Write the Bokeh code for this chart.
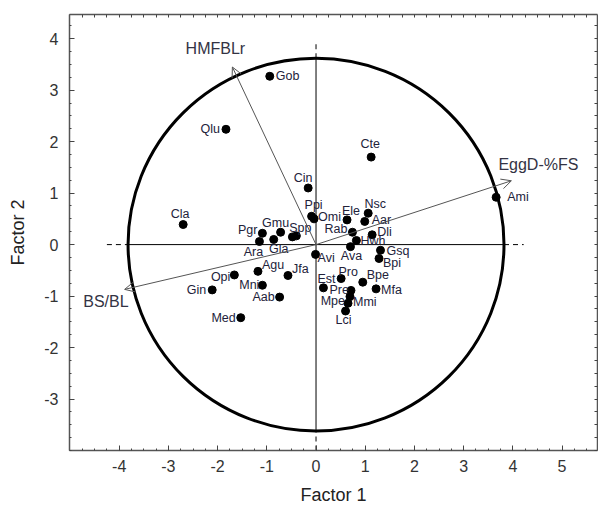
from bokeh.plotting import figure
from bokeh.models import (LinearAxis, Range1d, FixedTicker, Arrow,
                          OpenHead, ColumnDataSource)
from bokeh.core.properties import value
from bokeh.embed import file_html
from bokeh.resources import INLINE

# ---------------- data ----------------
species = ["Gob", "Qlu", "Cin", "Cte", "Ami", "Cla", "Ppi", "Omi", "Ele", "Nsc",
           "Aar", "Rab", "Dli", "Hwh", "Ava", "Gsq", "Bpi", "Avi", "Pro", "Bpe",
           "Mfa", "Est", "Pre", "Mmi", "Mpe", "Lci", "Pgr", "Gmu", "Spp", "",
           "Ara", "Gla", "Agu", "Jfa", "Opi", "Mni", "Gin", "Aab", "Med"]
factor1 = [-0.94, -1.83, -0.16, 1.12, 3.66, -2.70, -0.09, -0.04, 0.63, 1.06,
           0.99, 0.74, 1.14, 0.82, 0.70, 1.31, 1.28, -0.01, 0.51, 0.95,
           1.22, 0.15, 0.71, 0.69, 0.65, 0.60, -1.09, -0.72, -0.40, -0.48,
           -1.15, -0.86, -1.18, -0.57, -1.66, -1.09, -2.11, -0.74, -1.53]
factor2 = [3.27, 2.24, 1.10, 1.70, 0.92, 0.39, 0.55, 0.50, 0.48, 0.61,
           0.45, 0.24, 0.19, 0.08, -0.04, -0.11, -0.27, -0.19, -0.66, -0.73,
           -0.86, -0.84, -0.89, -1.01, -1.14, -1.29, 0.22, 0.24, 0.17, 0.15,
           0.06, 0.10, -0.52, -0.60, -0.59, -0.79, -0.88, -1.02, -1.42]

vector_names = ["HMFBLr", "EggD-%FS", "BS/BL"]
vector_x = [-1.70, 3.97, -3.89]
vector_y = [3.45, 1.24, -0.87]

x_ticks = [-4, -3, -2, -1, 0, 1, 2, 3, 4, 5]
y_ticks = [-3, -2, -1, 0, 1, 2, 3, 4]

# circle (round on screen, so slightly different radii in data units)
circle_rx = 3.82
circle_ry = 3.62

# ---------------- label placement (screen px offsets) ----------------
placement = {
    "Gob": (6, 0, "left"), "Qlu": (-6, 0, "right"), "Cin": (-5, -10, "center"),
    "Cte": (-1, -13, "center"), "Ami": (11, 0, "left"), "Cla": (-3, -11, "center"),
    "Ppi": (2, -11, "center"), "Omi": (4, -2, "left"), "Ele": (4, -9, "center"),
    "Nsc": (7, -9, "center"), "Aar": (7, -1, "left"), "Rab": (-5, -3, "right"),
    "Dli": (5, -3, "left"), "Hwh": (4, 1, "left"), "Ava": (1, 9, "center"),
    "Gsq": (6, 1, "left"), "Bpi": (4, 5, "left"), "Avi": (2, 4, "left"),
    "Pro": (7, -7, "center"), "Bpe": (4, -7, "left"), "Mfa": (5, 1, "left"),
    "Est": (3, -9, "center"), "Pre": (-2, 0, "right"), "Mmi": (3, 5, "left"),
    "Mpe": (-3, -2, "right"), "Lci": (-2, 9, "center"), "Pgr": (-5, -3, "right"),
    "Gmu": (-5, -9, "center"), "Spp": (4, -8, "center"), "Ara": (-6, 10, "center"),
    "Gla": (5, 10, "center"), "Agu": (4, -6, "left"), "Jfa": (4, -6, "left"),
    "Opi": (-4, 2, "right"), "Mni": (-3, 0, "right"), "Gin": (-6, 0, "right"),
    "Aab": (-5, 0, "right"), "Med": (-5, 0, "right"),
}
vec_placement = {
    "HMFBLr": (-17, -19, "center"),
    "EggD-%FS": (-13, -16, "left"),
    "BS/BL": (4, 12, "right"),
}

FONT = "Liberation Sans"
LABEL_COLOR = "#22223a"
X_MIN, X_MAX = -5.01, 5.72
Y_MIN, Y_MAX = -4.0, 4.47

p = figure(width=598, height=507, output_backend="svg", toolbar_location=None,
           x_range=Range1d(X_MIN, X_MAX), y_range=Range1d(Y_MIN, Y_MAX),
           min_border_left=69, min_border_right=1, min_border_top=14,
           min_border_bottom=55, x_axis_location=None, y_axis_location=None)
p.grid.visible = False
p.outline_line_color = None
p.background_fill_color = "white"
p.border_fill_color = "white"

x_minor = [i / 4 for i in range(-20, 23)]
y_minor = [i / 4 for i in range(-16, 18)]


def style_axis(ax):
    ax.axis_line_color = "#555555"
    ax.axis_line_width = 1.5
    ax.major_tick_in = 5
    ax.major_tick_out = 0
    ax.minor_tick_in = 2
    ax.minor_tick_out = 0
    ax.major_tick_line_color = "#444444"
    ax.minor_tick_line_color = "#444444"
    ax.major_label_text_font = FONT
    ax.major_label_text_font_size = "16px"
    ax.major_label_text_color = "#333333"
    ax.axis_label_text_font = FONT
    ax.axis_label_text_font_size = "18px"
    ax.axis_label_text_font_style = "normal"
    ax.axis_label_text_color = "#222222"
    return ax


xb = style_axis(LinearAxis(ticker=FixedTicker(ticks=x_ticks, minor_ticks=x_minor)))
xb.major_label_overrides = {t: str(t) for t in x_ticks}
xb.axis_label = "Factor 1"
xb.major_label_standoff = 9
xb.axis_label_standoff = 10
p.add_layout(xb, "below")

yl = style_axis(LinearAxis(ticker=FixedTicker(ticks=y_ticks, minor_ticks=y_minor)))
yl.major_label_overrides = {t: str(t) for t in y_ticks}
yl.axis_label = "Factor 2"
yl.major_label_standoff = 11
yl.axis_label_standoff = 13
p.add_layout(yl, "left")

# mirrored frame axes (ticks only, no labels)
xt = style_axis(LinearAxis(ticker=FixedTicker(ticks=[], minor_ticks=x_minor)))
xt.minor_tick_in = 3
xt.major_label_standoff = 0
p.add_layout(xt, "above")
yr = style_axis(LinearAxis(ticker=FixedTicker(ticks=[], minor_ticks=y_minor)))
yr.minor_tick_in = 3
yr.major_label_standoff = 0
p.add_layout(yr, "right")

# reference lines: dashed outside circle, solid inside
p.multi_line(xs=[[-4.25, -circle_rx], [circle_rx, 4.22], [0, 0], [0, 0]],
             ys=[[0, 0], [0, 0], [Y_MIN, -circle_ry], [circle_ry, 3.93]],
             line_color="black", line_width=1, line_dash="5 4")
p.multi_line(xs=[[-circle_rx, circle_rx], [0, 0]],
             ys=[[0, 0], [-circle_ry, circle_ry]],
             line_color="black", line_width=1)

# circle
p.ellipse(x=[0], y=[0], width=2 * circle_rx, height=2 * circle_ry,
          fill_color=None, line_color="black", line_width=3)

# vectors
for name, vx, vy in zip(vector_names, vector_x, vector_y):
    p.add_layout(Arrow(x_start=0, y_start=0, x_end=vx, y_end=vy,
                       line_color="#555555", line_width=1,
                       end=OpenHead(size=10, line_color="#555555", line_width=1)))

for align in ["left", "right", "center"]:
    xs, ys, ts, dxs, dys = [], [], [], [], []
    for name, vx, vy in zip(vector_names, vector_x, vector_y):
        dx, dy, a = vec_placement[name]
        if a == align:
            xs.append(vx); ys.append(vy); ts.append(name); dxs.append(dx); dys.append(dy)
    if xs:
        src = ColumnDataSource(dict(x=xs, y=ys, t=ts, dx=dxs, dy=dys))
        p.text(x="x", y="y", text="t", x_offset="dx", y_offset="dy", source=src,
               text_align=align, text_baseline="middle", text_font=value(FONT),
               text_font_size="16px", text_color="#333344")

# points
p.scatter(x=factor1, y=factor2, size=8, color="black")

# point labels
for align in ["left", "right", "center"]:
    xs, ys, ts, dxs, dys = [], [], [], [], []
    for name, fx, fy in zip(species, factor1, factor2):
        if not name:
            continue
        dx, dy, a = placement[name]
        if a == align:
            xs.append(fx); ys.append(fy); ts.append(name); dxs.append(dx); dys.append(dy)
    src = ColumnDataSource(dict(x=xs, y=ys, t=ts, dx=dxs, dy=dys))
    p.text(x="x", y="y", text="t", x_offset="dx", y_offset="dy", source=src,
           text_align=align, text_baseline="middle", text_font=value(FONT),
           text_font_size="12.5px", text_color=LABEL_COLOR)

open("out.html", "w").write(file_html(p, INLINE))
